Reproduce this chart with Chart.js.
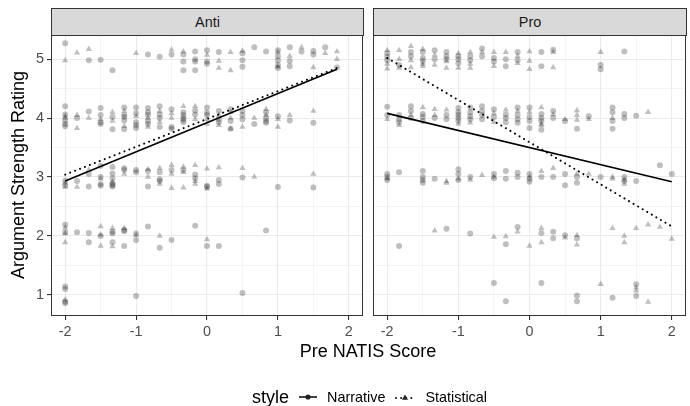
<!DOCTYPE html>
<html>
<head>
<meta charset="utf-8">
<script src="https://cdn.jsdelivr.net/npm/chart.js@4.4.1/dist/chart.umd.min.js"></script>
<style>
    body { margin: 0; background: #fff; font-family: "Liberation Sans", Arial, sans-serif; }
    #wrap { position: relative; width: 690px; height: 406px; overflow: hidden; }
    canvas { position: absolute; }
    .strip {
        position: absolute; top: 8px; height: 28px; box-sizing: border-box;
        background: #D9D9D9; border: 1px solid #333;
        font-size: 14.4px; color: #1A1A1A; text-align: center; line-height: 26px;
    }
    .ytitle {
        position: absolute; left: -132px; top: 164px; width: 300px; height: 22px;
        line-height: 22px; text-align: center; font-size: 18px; transform: rotate(-90deg);
    }
    .xtitle {
        position: absolute; left: 218px; top: 341px; width: 300px; height: 20px;
        line-height: 20px; text-align: center; font-size: 18px;
    }
    #legend {
        position: absolute; left: 252px; top: 386px; height: 22px;
        display: flex; align-items: center; white-space: nowrap;
    }
    #legend .title { font-size: 18px; }
    #legend .lab { font-size: 14.4px; margin-left: 10px; }
    #legend svg { margin-left: 10px; }
</style>
</head>
<body>
<div id="wrap">
    <div class="strip" style="left:51px; width:313px;">Anti</div>
    <div class="strip" style="left:373px; width:314px;">Pro</div>
    <canvas id="anti" width="368" height="315" style="left:0; top:30px;"></canvas>
    <canvas id="pro" width="322" height="315" style="left:368px; top:30px;"></canvas>
    <div class="ytitle">Argument Strength Rating</div>
    <div class="xtitle">Pre NATIS Score</div>
    <div id="legend">
        <span class="title">style</span>
        <svg width="18" height="12"><line x1="0" y1="6" x2="18" y2="6" stroke="#000" stroke-width="1.5"/><circle cx="9" cy="6" r="2.6" fill="#222"/></svg>
        <span class="lab">Narrative</span>
        <svg width="20" height="12"><line x1="1" y1="7" x2="20" y2="7" stroke="#000" stroke-width="1.8" stroke-dasharray="0.1 5" stroke-linecap="round"/><path d="M10 3.5 L13 8.8 L7 8.8 Z" fill="#222"/></svg>
        <span class="lab">Statistical</span>
    </div>
</div>
<script>
// -------------------------------
// DATA
// -------------------------------
const xMajor = [-2, -1, 0, 1, 2];
const xMinor = [-1.5, -0.5, 0.5, 1.5];
const yMajor = [1, 2, 3, 4, 5];
const yMinor = [1.5, 2.5, 3.5, 4.5];
const xRange = [-2.2, 2.2];
const yRange = [0.64, 5.41];

// ---- Anti panel ----
const antiNarrative = [
    [-2, 5.27], [-2, 4.20], [-2, 4.06], [-2, 3.96], [-2, 3.90], [-2, 3.86], [-2, 2.94], [-2, 2.86], [-2, 2.19], [-2, 2.06], [-2, 1.14], [-2, 1.10], [-2, 0.88], [-2, 0.86],
    [-1.833, 4.00], [-1.833, 2.93], [-1.833, 2.06],
    [-1.667, 4.98], [-1.667, 4.11], [-1.667, 3.05], [-1.667, 2.84], [-1.667, 2.05], [-1.667, 1.89],
    [-1.5, 4.99], [-1.5, 4.17], [-1.5, 4.05], [-1.5, 3.93], [-1.5, 3.90], [-1.5, 3.19], [-1.5, 3.00], [-1.5, 2.88], [-1.5, 2.85], [-1.5, 2.00],
    [-1.333, 4.81], [-1.333, 4.02], [-1.333, 3.81], [-1.333, 3.17], [-1.333, 3.06], [-1.333, 2.98], [-1.333, 2.89], [-1.333, 2.86], [-1.333, 2.84], [-1.333, 2.07], [-1.333, 2.04], [-1.333, 1.89],
    [-1.167, 4.18], [-1.167, 4.05], [-1.167, 4.02], [-1.167, 3.96], [-1.167, 3.81], [-1.167, 3.15], [-1.167, 3.12], [-1.167, 2.10], [-1.167, 2.08], [-1.167, 1.83],
    [-1, 4.18], [-1, 4.08], [-1, 3.93], [-1, 3.88], [-1, 3.83], [-1, 3.12], [-1, 3.08], [-1, 2.04], [-1, 1.93], [-1, 0.98],
    [-0.833, 5.08], [-0.833, 4.17], [-0.833, 4.10], [-0.833, 4.05], [-0.833, 3.95], [-0.833, 3.90], [-0.833, 3.10], [-0.833, 2.84], [-0.833, 2.16],
    [-0.667, 5.04], [-0.667, 4.20], [-0.667, 4.06], [-0.667, 4.00], [-0.667, 3.85], [-0.667, 3.08], [-0.667, 2.96], [-0.667, 2.93], [-0.667, 1.80],
    [-0.5, 5.08], [-0.5, 4.15], [-0.5, 3.85], [-0.5, 3.82], [-0.5, 3.12], [-0.5, 1.93],
    [-0.333, 5.08], [-0.333, 4.96], [-0.333, 4.81], [-0.333, 4.10], [-0.333, 4.05], [-0.333, 4.00], [-0.333, 3.97], [-0.333, 3.93], [-0.333, 3.12],
    [-0.167, 5.13], [-0.167, 5.00], [-0.167, 4.96], [-0.167, 4.81], [-0.167, 4.13], [-0.167, 4.06], [-0.167, 3.04], [-0.167, 2.98], [-0.167, 2.17],
    [0, 5.15], [0, 4.96], [0, 4.92], [0, 4.18], [0, 4.09], [0, 4.05], [0, 2.85], [0, 2.83], [0, 1.83],
    [0.167, 5.12], [0.167, 4.12], [0.167, 3.98], [0.167, 3.93], [0.167, 2.95], [0.167, 2.88], [0.167, 1.83],
    [0.333, 4.15], [0.333, 3.95], [0.333, 3.82],
    [0.5, 5.10], [0.5, 4.98], [0.5, 4.87], [0.5, 4.12], [0.5, 4.05], [0.5, 3.98], [0.5, 2.99], [0.5, 1.03],
    [0.667, 5.20], [0.667, 3.90],
    [0.833, 5.13], [0.833, 4.10], [0.833, 4.00], [0.833, 3.95], [0.833, 3.92], [0.833, 2.09],
    [1, 5.15], [1, 5.05], [1, 4.98], [1, 4.90], [1, 4.85], [1, 4.03], [1, 2.83],
    [1.167, 5.20], [1.167, 4.97], [1.167, 4.88], [1.167, 3.96],
    [1.333, 5.13],
    [1.5, 5.14], [1.5, 5.08], [1.5, 3.92], [1.5, 2.82],
    [1.667, 5.20],
    [1.833, 4.86]
];
const antiStatistical = [
    [-2, 4.98], [-2, 4.00], [-2, 4.03], [-2, 2.90], [-2, 2.83], [-2, 2.14], [-2, 2.04], [-2, 1.89], [-2, 0.92],
    [-1.833, 5.11], [-1.833, 4.05], [-1.833, 3.83], [-1.833, 2.83],
    [-1.667, 5.17], [-1.667, 4.00], [-1.667, 3.12],
    [-1.5, 3.98], [-1.5, 2.97], [-1.5, 2.16], [-1.5, 2.02], [-1.5, 1.83],
    [-1.333, 4.10], [-1.333, 3.95], [-1.333, 2.92], [-1.333, 2.13], [-1.333, 1.82],
    [-1.167, 4.12], [-1.167, 3.86], [-1.167, 3.05], [-1.167, 2.13],
    [-1, 5.10], [-1, 4.03], [-1, 2.01],
    [-0.833, 4.00], [-0.833, 3.85], [-0.833, 3.13], [-0.833, 3.00],
    [-0.667, 4.12], [-0.667, 3.93], [-0.667, 3.15], [-0.667, 2.88], [-0.667, 2.00],
    [-0.5, 5.16], [-0.5, 4.08], [-0.5, 4.00], [-0.5, 3.20], [-0.5, 3.05], [-0.5, 2.81],
    [-0.333, 5.13], [-0.333, 4.20], [-0.333, 3.17], [-0.333, 3.08], [-0.333, 2.82],
    [-0.167, 4.20], [-0.167, 3.98], [-0.167, 3.20], [-0.167, 2.93], [-0.167, 2.88],
    [0, 5.07], [0, 3.98], [0, 3.90], [0, 3.14], [0, 2.80], [0, 1.94],
    [0.167, 4.97], [0.167, 4.85], [0.167, 4.05], [0.167, 3.88], [0.167, 3.16],
    [0.333, 5.12], [0.333, 4.81], [0.333, 4.10], [0.333, 4.00], [0.333, 3.82],
    [0.5, 5.14], [0.5, 3.85], [0.5, 3.15],
    [0.667, 4.00], [0.667, 3.00],
    [0.833, 4.15], [0.833, 4.05],
    [1, 5.12], [1, 4.87], [1, 3.98], [1, 3.85],
    [1.167, 5.05], [1.167, 4.05],
    [1.333, 5.20],
    [1.5, 4.86], [1.5, 4.12], [1.5, 3.05],
    [1.667, 5.10],
    [1.833, 5.13], [1.833, 5.00]
];
const antiFitX = [-2, 1.833];
const antiNarrativeFit = [2.93, 4.83];
const antiStatisticalFit = [3.04, 4.85];

// ---- Pro panel ----
const proNarrative = [
    [-2, 5.10], [-2, 5.04], [-2, 4.98], [-2, 4.19], [-2, 4.05], [-2, 3.05], [-2, 3.00], [-2, 2.95],
    [-1.833, 4.90], [-1.833, 4.05], [-1.833, 3.98], [-1.833, 3.93], [-1.833, 3.08], [-1.833, 1.83],
    [-1.667, 5.12], [-1.667, 5.05], [-1.667, 4.20], [-1.667, 4.12], [-1.667, 4.00],
    [-1.5, 5.12], [-1.5, 5.02], [-1.5, 4.97], [-1.5, 4.07], [-1.5, 4.02], [-1.5, 3.95], [-1.5, 3.10], [-1.5, 3.00], [-1.5, 2.95], [-1.5, 2.90],
    [-1.333, 5.15], [-1.333, 5.00], [-1.333, 4.00], [-1.333, 2.97],
    [-1.167, 5.12], [-1.167, 5.05], [-1.167, 5.00], [-1.167, 4.05], [-1.167, 3.98], [-1.167, 2.12],
    [-1, 5.05], [-1, 5.00], [-1, 4.93], [-1, 4.17], [-1, 4.10], [-1, 4.05], [-1, 4.00], [-1, 3.95], [-1, 3.13], [-1, 3.05], [-1, 2.95],
    [-0.833, 5.05], [-0.833, 4.98], [-0.833, 4.18], [-0.833, 4.10], [-0.833, 4.03], [-0.833, 3.98], [-0.833, 3.00], [-0.833, 2.04],
    [-0.667, 5.18], [-0.667, 5.05], [-0.667, 4.20], [-0.667, 4.12], [-0.667, 4.05], [-0.667, 3.98],
    [-0.5, 5.02], [-0.5, 4.96], [-0.5, 4.15], [-0.5, 4.02], [-0.5, 3.05], [-0.5, 2.98], [-0.5, 1.20],
    [-0.333, 5.00], [-0.333, 4.88], [-0.333, 4.06], [-0.333, 4.00], [-0.333, 3.93], [-0.333, 3.10], [-0.333, 2.97], [-0.333, 1.86], [-0.333, 0.89],
    [-0.167, 5.12], [-0.167, 4.98], [-0.167, 4.18], [-0.167, 4.05], [-0.167, 3.98], [-0.167, 3.92], [-0.167, 3.07], [-0.167, 3.00], [-0.167, 2.15],
    [0, 4.18], [0, 4.02], [0, 3.95], [0, 3.83], [0, 3.05], [0, 2.97], [0, 2.92],
    [0.167, 5.12], [0.167, 4.88], [0.167, 4.07], [0.167, 4.00], [0.167, 3.95], [0.167, 3.80], [0.167, 3.00], [0.167, 2.05], [0.167, 1.20],
    [0.333, 5.16], [0.333, 4.12], [0.333, 4.00], [0.333, 3.00], [0.333, 2.07], [0.333, 1.96],
    [0.5, 3.95], [0.5, 3.05], [0.5, 2.86], [0.5, 2.01],
    [0.667, 3.82], [0.667, 3.00], [0.667, 2.90], [0.667, 1.96], [0.667, 0.99], [0.667, 0.89],
    [0.833, 4.03],
    [1, 4.90], [1, 4.83], [1, 3.00],
    [1.167, 4.18], [1.167, 4.10], [1.167, 3.95], [1.167, 3.82], [1.167, 0.95],
    [1.333, 5.13], [1.333, 4.07], [1.333, 4.00], [1.333, 3.00], [1.333, 2.93],
    [1.5, 4.04], [1.5, 2.93], [1.5, 1.18], [1.5, 0.98],
    [1.833, 3.20],
    [2, 3.05]
];
const proStatistical = [
    [-2, 5.15], [-2, 4.92], [-2, 4.84], [-2, 3.98], [-2, 2.97],
    [-1.833, 5.15], [-1.833, 5.00], [-1.833, 4.85], [-1.833, 3.88],
    [-1.667, 5.22], [-1.667, 4.98], [-1.667, 4.86], [-1.667, 4.05],
    [-1.5, 5.17], [-1.5, 4.92], [-1.5, 4.88], [-1.5, 4.18],
    [-1.333, 5.07], [-1.333, 4.90], [-1.333, 4.15], [-1.333, 4.05], [-1.333, 2.09],
    [-1.167, 4.96], [-1.167, 4.85], [-1.167, 4.14], [-1.167, 2.93], [-1.167, 2.90],
    [-1, 5.10], [-1, 4.85], [-1, 3.90], [-1, 2.97],
    [-0.833, 5.12], [-0.833, 4.92], [-0.833, 4.85], [-0.833, 3.92], [-0.833, 2.95],
    [-0.667, 5.12], [-0.667, 3.03],
    [-0.5, 5.12], [-0.5, 4.88], [-0.5, 4.08], [-0.5, 3.93], [-0.5, 3.00], [-0.5, 1.98],
    [-0.333, 5.12], [-0.333, 4.14], [-0.333, 1.99],
    [-0.167, 5.05], [-0.167, 4.93], [-0.167, 4.12], [-0.167, 2.07],
    [0, 5.13], [0, 4.97], [0, 4.83], [0, 4.10], [0, 3.00], [0, 1.83],
    [0.167, 4.18], [0.167, 3.90], [0.167, 3.88], [0.167, 3.10], [0.167, 2.13], [0.167, 1.89],
    [0.333, 5.12], [0.333, 4.86], [0.333, 4.06], [0.333, 3.15],
    [0.5, 3.98], [0.5, 1.97],
    [0.667, 4.13], [0.667, 4.05], [0.667, 3.97], [0.667, 3.05], [0.667, 2.01], [0.667, 1.85],
    [0.833, 3.98], [0.833, 3.05],
    [1, 5.12], [1, 1.18],
    [1.167, 4.00], [1.167, 2.97], [1.167, 3.00], [1.167, 2.13],
    [1.333, 2.95], [1.333, 2.88], [1.333, 2.00], [1.333, 1.89],
    [1.5, 2.13], [1.5, 1.12], [1.5, 1.07],
    [1.667, 4.10], [1.667, 2.19], [1.667, 0.88],
    [1.833, 2.15],
    [2, 1.95]
];
const proFitX = [-2, 2];
const proNarrativeFit = [4.08, 2.92];
const proStatisticalFit = [5.02, 2.16];

// -------------------------------
// HELPERS
// -------------------------------
Chart.defaults.font.family = '"Liberation Sans", Arial, sans-serif';

const toPoints = pairs => pairs.map(p => ({ x: p[0], y: p[1] }));
const fitLine = (xs, ys) => xs.map((x, i) => ({ x: x, y: ys[i] }));
const isMajor = (v, majors) => majors.some(m => Math.abs(m - v) < 1e-9);

// draws the full ggplot-style panel box
const panelBorder = {
    id: "panelBorder",
    afterDraw(chart) {
        const a = chart.chartArea, ctx = chart.ctx;
        ctx.save();
        ctx.strokeStyle = "#333333";
        ctx.lineWidth = 1;
        ctx.strokeRect(a.left + 0.5, a.top + 0.5, a.right - a.left - 1, a.bottom - a.top - 1);
        ctx.restore();
    }
};

function axisScale(range, majors, minors, showLabels, fitSize, isX) {
    return {
        type: "linear",
        min: range[0],
        max: range[1],
        afterBuildTicks: s => { s.ticks = majors.concat(minors).sort((a, b) => a - b).map(v => ({ value: v })); },
        afterFit: s => {
            // fixed axis size, no extra edge padding from the labels
            if (isX) s.height = fitSize; else s.width = fitSize;
            s.paddingTop = 0; s.paddingBottom = 0; s.paddingLeft = 0; s.paddingRight = 0;
        },
        border: { display: false },
        grid: {
            color: "#EBEBEB",
            lineWidth: c => isMajor(c.tick.value, majors) ? 1.1 : 0.55,
            drawTicks: showLabels,
            tickLength: 4,
            tickColor: c => isMajor(c.tick.value, majors) ? "#333333" : "rgba(0,0,0,0)"
        },
        ticks: {
            display: showLabels,
            color: "#4D4D4D",
            font: { size: 14.4 },
            padding: 3,
            autoSkip: false,
            maxRotation: 0,
            callback: v => isMajor(v, majors) ? String(v) : ""
        }
    };
}

// -------------------------------
// PANEL CREATION
// -------------------------------
function makePanel(id, narrative, statistical, fitX, narrFit, statFit, showY, padding) {
    const pts = { backgroundColor: "rgba(0,0,0,0.25)", borderWidth: 0, pointHoverRadius: 0 };
    new Chart(document.getElementById(id), {
        type: "scatter",
        data: {
            datasets: [
                { data: fitLine(fitX, narrFit), showLine: true, borderColor: "#000", borderWidth: 1.6, pointRadius: 0 },
                { data: fitLine(fitX, statFit), showLine: true, borderColor: "#000", borderWidth: 2, borderDash: [0.1, 5.2], borderCapStyle: "round", pointRadius: 0 },
                Object.assign({ data: toPoints(narrative), pointStyle: "circle", pointRadius: 3 }, pts),
                Object.assign({ data: toPoints(statistical), pointStyle: "triangle", pointRadius: 3.6 }, pts)
            ]
        },
        options: {
            responsive: false,
            animation: false,
            devicePixelRatio: 1,
            layout: { padding: padding },
            plugins: { legend: { display: false }, tooltip: { enabled: false } },
            scales: {
                x: axisScale(xRange, xMajor, xMinor, true, 29, true),
                y: axisScale(yRange, yMajor, yMinor, showY, showY ? 51 : 0, false)
            }
        },
        plugins: [panelBorder]
    });
}

// -------------------------------
// ON LOAD
// -------------------------------
makePanel("anti", antiNarrative, antiStatistical, antiFitX, antiNarrativeFit, antiStatisticalFit, true,
    { top: 5, right: 5, left: 0, bottom: 0 });
makePanel("pro", proNarrative, proStatistical, proFitX, proNarrativeFit, proStatisticalFit, false,
    { top: 5, right: 4, left: 5, bottom: 0 });
</script>
</body>
</html>
